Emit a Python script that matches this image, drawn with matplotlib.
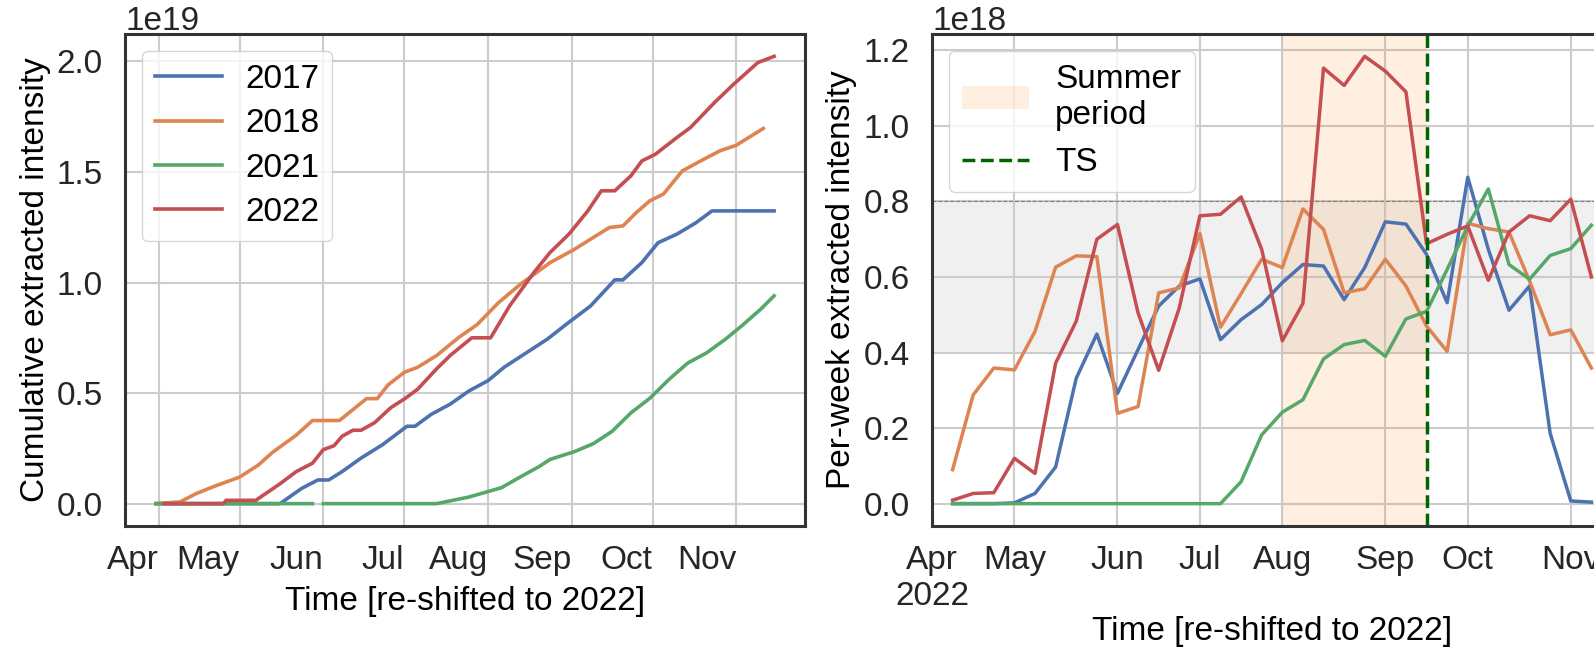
import matplotlib
matplotlib.use("Agg")
import matplotlib.pyplot as plt
import matplotlib.dates as mdates
import numpy as np
import pandas as pd

plt.rcParams["font.family"] = ["Liberation Sans", "DejaVu Sans"]
plt.rcParams["font.size"] = 24
plt.rcParams["axes.axisbelow"] = True

# seaborn "deep" colours per season
colors = {"2017": "#4C72B0", "2018": "#DD8452", "2021": "#55A868", "2022": "#C44E52"}

# --- cumulative extracted intensity (x1e19), dates shifted to 2022
cum_dates_2017 = ["03-31", "05-16", "05-24", "05-30", "06-03", "06-08", "06-15", "06-23", "07-02",
                  "07-05", "07-11", "07-18", "07-25", "08-01", "08-07", "08-23", "08-30", "09-08",
                  "09-17", "09-20", "09-27", "10-03", "10-10", "10-17", "10-23", "11-15"]
cum_2017 = [0, 0, 0.069, 0.107, 0.107, 0.145, 0.206, 0.267, 0.35, 0.35, 0.404, 0.45, 0.51, 0.556,
            0.617, 0.744, 0.811, 0.894, 1.012, 1.012, 1.09, 1.18, 1.219, 1.27, 1.324, 1.324]

cum_dates_2018 = ["03-31", "04-09", "04-15", "04-22", "05-01", "05-08", "05-13", "05-22", "05-28",
                  "06-07", "06-17", "06-21", "06-25", "07-01", "07-06", "07-13", "07-21", "07-28",
                  "08-05", "08-13", "08-19", "08-24", "09-02", "09-08", "09-15", "09-20", "09-25",
                  "09-30", "10-05", "10-12", "10-20", "10-26", "11-01", "11-11"]
cum_2018 = [0, 0.008, 0.046, 0.08, 0.12, 0.175, 0.23, 0.31, 0.376, 0.376, 0.475, 0.475, 0.537, 0.594,
            0.617, 0.67, 0.75, 0.81, 0.91, 0.992, 1.045, 1.09, 1.15, 1.196, 1.249, 1.256, 1.317,
            1.37, 1.40, 1.505, 1.558, 1.596, 1.621, 1.697]

cum_dates_2021 = ["03-31", "05-28", "05-30", "06-01", "07-13", "07-25", "08-06", "08-12", "08-20",
                  "08-24", "09-02", "09-09", "09-16", "09-23", "09-30", "10-07", "10-14", "10-21",
                  "10-28", "11-03", "11-10", "11-15"]
cum_2021 = [0, 0, np.nan, 0, 0, 0.03, 0.072, 0.114, 0.168, 0.2, 0.235, 0.271, 0.327, 0.411, 0.477,
            0.561, 0.636, 0.682, 0.744, 0.804, 0.879, 0.94]

cum_dates_2022 = ["04-03", "04-25", "04-26", "05-07", "05-16", "05-22", "05-28", "06-01", "06-05",
                  "06-08", "06-12", "06-15", "06-20", "06-26", "07-01", "07-06", "07-13", "07-18",
                  "07-26", "08-02", "08-09", "08-18", "08-24", "08-31", "09-07", "09-12", "09-17",
                  "09-23", "09-27", "10-02", "10-10", "10-15", "10-24", "10-31", "11-09", "11-15"]
cum_2022 = [0, 0, 0.015, 0.015, 0.09, 0.145, 0.183, 0.244, 0.262, 0.305, 0.332, 0.332, 0.366, 0.434,
            0.473, 0.518, 0.61, 0.67, 0.75, 0.75, 0.894, 1.045, 1.136, 1.219, 1.324, 1.415, 1.415,
            1.483, 1.55, 1.58, 1.656, 1.701, 1.815, 1.897, 1.995, 2.023]

# --- per-week extracted intensity (x1e18), week index counted from 1 April 2022
weeks = list(range(1, 33))
week_2017 = [0, 0, 0, 0.002, 0.027, 0.097, 0.332, 0.449, 0.292, 0.408, 0.523, 0.576, 0.595, 0.434,
             0.487, 0.527, 0.585, 0.633, 0.629, 0.54, 0.625, 0.746, 0.74, 0.66, 0.532, 0.864, 0.673,
             0.512, 0.576, 0.186, 0.007, 0.004]
week_2018 = [0.09, 0.288, 0.359, 0.354, 0.456, 0.626, 0.656, 0.654, 0.239, 0.257, 0.558, 0.571,
             0.715, 0.467, 0.556, 0.647, 0.625, 0.78, 0.726, 0.558, 0.569, 0.647, 0.576, 0.47, 0.403,
             0.742, 0.728, 0.719, 0.589, 0.447, 0.46, 0.359]
week_2021 = [0, 0, 0, 0, 0, 0, 0, 0, 0, 0, 0, 0, 0, 0, 0.058, 0.182, 0.242, 0.275, 0.383, 0.421,
             0.432, 0.39, 0.489, 0.509, 0.62, 0.735, 0.833, 0.633, 0.594, 0.657, 0.675, 0.737]
week_2022 = [0.009, 0.027, 0.029, 0.12, 0.08, 0.372, 0.483, 0.70, 0.739, 0.505, 0.353, 0.518, 0.762,
             0.766, 0.812, 0.673, 0.431, 0.53, 1.153, 1.107, 1.184, 1.145, 1.09, 0.688, 0.713, 0.735,
             0.591, 0.719, 0.762, 0.749, 0.806, 0.60]
month_weeks = [0, 4, 9, 13, 17, 22, 26, 31]
month_labels = ["Apr\n2022", "May", "Jun", "Jul", "Aug", "Sep", "Oct", "Nov"]
summer = (17, 24)
ts_week = 24
band = (0.4e18, 0.8e18)


def to_dates(md):
    return pd.to_datetime(["2022-" + d for d in md])


W, H = 1594, 647
fig = plt.figure(figsize=(W / 100, H / 100), dpi=100)
ax1 = fig.add_axes([125 / W, 1 - 526 / H, 680 / W, 492 / H])
ax2 = fig.add_axes([932 / W, 1 - 526 / H, 680 / W, 492 / H])

for ax in (ax1, ax2):
    ax.grid(True, color="#cccccc", linewidth=1.5)
    for s in ax.spines.values():
        s.set_color("#333333")
        s.set_linewidth(2.2)
    ax.tick_params(length=0, labelsize=24, colors="#262626")
    ax.tick_params(axis="y", pad=16)
    ax.tick_params(axis="x", pad=14)

# left: cumulative
series = [("2017", cum_dates_2017, cum_2017), ("2018", cum_dates_2018, cum_2018),
          ("2021", cum_dates_2021, cum_2021), ("2022", cum_dates_2022, cum_2022)]
for name, d, vals in series:
    ax1.plot(to_dates(d), np.array(vals) * 1e19, color=colors[name], lw=2.6, label=name)
ax1.xaxis.set_major_locator(mdates.MonthLocator())
ax1.xaxis.set_major_formatter(mdates.DateFormatter("%b"))
for lbl in ax1.get_xticklabels():
    lbl.set_ha("right")
ax1.set_xlabel("Time [re-shifted to 2022]", labelpad=7)
ax1.set_ylabel("Cumulative extracted intensity", labelpad=4)
ax1.legend(loc="upper left", labelspacing=0.4, handletextpad=0.7, edgecolor="0.8", fontsize=24)

# right: per week
ax2.axhspan(*band, color="#f0f0f0", zorder=0.3, lw=0)
ax2.axhline(band[1], color="gray", ls="--", lw=0.8, zorder=1)
span = ax2.axvspan(*summer, color="tab:orange", alpha=0.12, lw=0, zorder=0.6, label="Summer\nperiod")
for name, vals in [("2017", week_2017), ("2018", week_2018), ("2021", week_2021), ("2022", week_2022)]:
    ax2.plot(weeks, np.array(vals) * 1e18, color=colors[name], lw=2.5)
ts = ax2.axvline(ts_week, color="darkgreen", ls="--", lw=2.5, label="TS")
ax2.set_xlim(0, 33)
ax2.set_xticks(month_weeks)
ax2.set_xticklabels(month_labels, ha="center")
ax2.set_xlabel("Time [re-shifted to 2022]", labelpad=3)
ax2.set_ylabel("Per-week extracted intensity", labelpad=5)
ax2.legend(handles=[span, ts], loc="upper left", edgecolor="0.8", fontsize=24)

fig.savefig("out.png", dpi=100)
